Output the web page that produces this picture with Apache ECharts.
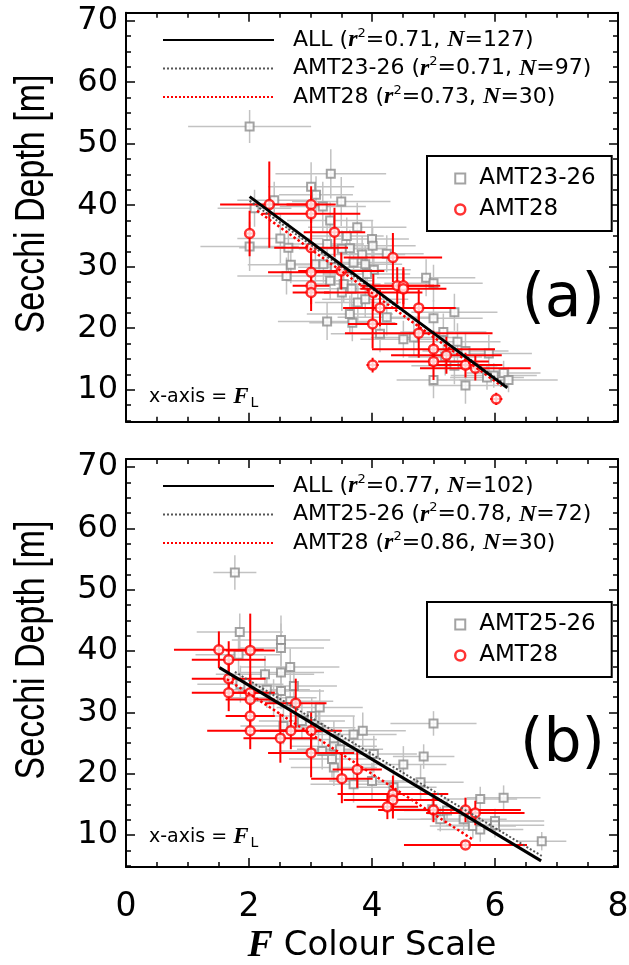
<!DOCTYPE html>
<html><head><meta charset="utf-8">
<script src="https://cdn.jsdelivr.net/npm/echarts@6/dist/echarts.min.js"></script>
<style>html,body{margin:0;padding:0;background:#fff}#c{width:629px;height:965px}</style>
</head><body><div id="c"></div><script>
// ---------- tick labels ----------
const xTickLabels = [0, 2, 4, 6, 8];
const yTickLabels = [10, 20, 30, 40, 50, 60, 70];
const yMinorTicks = [5, 7.5, 12.5, 15, 17.5, 22.5, 25, 27.5, 32.5, 35, 37.5, 42.5, 45, 47.5, 52.5, 55, 57.5, 62.5, 65, 67.5];

// ---------- panel (a) ----------
const aGrayX    = [2.01,3.33,3.01,3.09,3.50,3.20,2.41,2.09,3.32,3.76,2.51,2.64,2.01,3.59,4.00,4.01,3.27,3.51,3.64,3.84,4.24,2.68,2.61,3.08,3.21,3.32,3.40,3.70,3.89,4.03,3.92,4.88,5.00,3.54,3.51,3.67,3.77,3.89,3.64,3.68,3.27,4.24,4.13,4.51,4.68,5.34,5.00,5.16,5.39,5.52,5.90,5.34,5.00,5.52,5.98,6.14,6.22,5.87,5.19];
const aGrayY    = [52.8,45.1,43.0,41.7,40.6,39.8,40.8,39.5,37.5,36.4,34.6,33.1,33.3,35.0,34.5,33.4,33.7,32.9,33.0,32.0,32.1,30.3,28.5,30.4,30.4,27.7,29.9,30.7,30.4,29.5,28.8,28.2,27.3,27.2,25.8,26.4,24.2,24.7,22.3,20.9,21.1,21.8,19.1,18.2,18.5,22.6,21.6,19.4,17.8,16.3,15.9,13.9,11.6,10.7,12.3,12.7,11.6,12.0,15.3];
const aGrayXErr = [1.0,0.9,0.7,0.6,0.8,0.7,0.6,0.6,0.7,0.8,0.7,0.8,0.8,0.6,0.6,0.7,0.6,0.7,0.6,0.7,0.6,0.7,0.8,0.6,0.6,0.7,0.6,0.7,0.6,0.6,0.7,0.8,0.8,0.6,0.6,0.6,0.7,0.7,0.7,0.7,0.8,0.8,0.8,0.7,0.7,0.7,0.8,0.7,0.7,0.7,0.7,0.7,0.6,0.6,0.7,0.6,0.8,0.6,0.6];
const aGrayYErr = [2.7,4,4,3,4,4,3,3,3,4,4,4,4,3,3,3,3,3,3,3,3,3,3,3,3,3,3,3,3,3,3,3,3,3,3,3,3,3,3,3,3,3,3,3,3,3,3,3,3,3,3,3,3,3,2,2,2,2,3];
const aRedX     = [2.01,2.33,3.01,3.01,3.39,3.01,3.01,3.01,3.50,4.34,4.41,4.51,3.01,4.02,4.13,4.01,4.01,4.51,4.76,4.76,5.00,5.00,5.21,5.52,5.68,6.02];
const aRedY     = [35.4,40.1,40.1,38.6,35.6,33.1,29.1,26.9,29.3,31.5,26.9,26.9,25.8,25.8,23.3,20.7,14.0,26.4,23.3,19.2,16.6,14.6,15.6,14.0,13.5,8.5];
const aRedXErr  = [0.05,0.8,0.4,0.8,0.5,0.6,0.7,0.3,0.7,0.8,0.6,0.6,0.3,0.8,0.6,0.4,0.1,0.7,0.6,1.2,1.0,0.9,0.9,0.6,0.9,0.1];
const aRedYErr  = [3.7,7,3,3,4,3,3,3,3,4,3,3,3,3,3,4,1.2,3,3,4,3,3,3,2,2,1];
const aLineAll  = [[2.01, 41.4], [6.20, 10.3]];
const aLineGray = [[2.01, 40.7], [6.20, 10.6]];
const aLineRed  = [[2.13, 39.1], [6.11, 10.6]];

// ---------- panel (b) ----------
const bGrayX    = [1.77,1.85,1.83,2.52,2.52,2.67,2.52,2.26,1.86,2.29,2.52,2.73,2.40,2.67,3.15,3.02,2.86,2.56,3.13,3.38,3.70,3.85,5.00,4.03,4.84,3.19,3.38,3.48,3.35,3.38,3.70,4.00,4.51,4.35,4.79,5.11,5.49,5.64,5.76,5.76,6.14,6.00,6.00,6.76,4.98,5.22];
const bGrayY    = [52.8,43.1,39.4,41.8,40.5,37.4,36.5,36.2,34.6,33.7,33.5,34.3,32.4,31.8,30.8,29.4,28.6,27.8,27.5,25.6,26.4,27.0,28.2,23.2,22.8,23.7,24.5,24.0,22.4,21.0,18.3,18.8,21.5,17.8,18.6,12.6,12.6,11.5,10.9,15.9,16.1,12.3,11.6,9.0,14.2,14.0];
const bGrayXErr = [0.35,0.7,0.7,0.8,0.7,0.8,0.7,0.8,0.7,0.7,0.7,0.7,0.7,0.7,0.7,0.7,0.7,0.7,0.6,0.7,0.7,0.7,0.7,0.7,0.5,0.7,0.7,0.7,0.7,0.7,0.7,0.7,0.7,0.7,0.7,0.7,0.7,0.7,0.7,0.6,0.6,0.8,0.8,0.4,0.7,0.7];
const bGrayYErr = [2.8,3,3,4,4,3,3,3,3,3,3,3,3,3,3,3,3,3,3,3,3,3,2,3,2,3,3,3,3,3,3,3,3,3,3,2,2,2,2,2,2,2,2,1.5,2,2];
const bRedX     = [1.51,2.02,1.67,1.67,1.67,2.02,2.02,2.02,2.02,2.76,2.68,2.51,3.01,3.01,3.51,3.76,4.34,4.34,4.25,5.00,5.52,5.68,5.52];
const bRedY     = [40.2,40.1,38.6,35.5,33.2,33.2,32.1,29.4,27.0,31.5,27.0,25.8,27.0,23.4,19.2,20.7,16.7,15.7,14.6,14.1,14.1,13.6,8.4];
const bRedXErr  = [0.73,0.4,0.6,0.6,0.6,0.4,0.4,0.4,0.7,0.5,0.5,0.6,0.5,0.7,0.5,0.4,0.9,0.8,0.5,0.9,0.9,0.8,1.0];
const bRedYErr  = [3,6,3,3,3,3,3,3,3,4,3,4,3,4,4,3,3,3,2,2,2,2,0.5];
const bLineAll  = [[1.52, 37.3], [6.75, 5.8]];
const bLineGray = [[1.77, 36.6], [6.76, 6.6]];
const bLineRed  = [[1.64, 35.4], [5.65, 9.2]];

// ---------- layout / style ----------
const SANS = '"DejaVu Sans", sans-serif';
const SERIF = '"Liberation Serif", "DejaVu Serif", serif';
const ARIAL = '"Liberation Sans", Arial, sans-serif';
const Y_MIN = 4.8, Y_MAX = 71.3;
const grids = [
  {left: 126, top: 12.7, width: 492, height: 409},
  {left: 126, top: 459, width: 492, height: 408}
];
const BLACK = '#000';
const HIDDEN = {color: 'rgba(0,0,0,0)', borderColor: 'rgba(0,0,0,0)', borderWidth: 0, opacity: 0};

function zip(xs, ys, ex, ey) { return xs.map((x, i) => [x, ys[i], ex[i], ey[i]]); }

function errRender(color, w) {
  return function (params, api) {
    const x = api.value(0), y = api.value(1), ex = api.value(2), ey = api.value(3);
    const l = api.coord([x - ex, y]), r = api.coord([x + ex, y]);
    const t = api.coord([x, y + ey]), b = api.coord([x, y - ey]);
    return {type: 'group', children: [
      {type: 'line', shape: {x1: l[0], y1: l[1], x2: r[0], y2: r[1]}, style: {stroke: color, lineWidth: w}},
      {type: 'line', shape: {x1: t[0], y1: t[1], x2: b[0], y2: b[1]}, style: {stroke: color, lineWidth: w}}
    ]};
  };
}

const xAxes = [], yAxes = [];
grids.forEach((g, gi) => {
  const xb = {gridIndex: gi, type: 'value', min: 0, max: 8, interval: 2,
    splitLine: {show: false}, minorSplitLine: {show: false},
    axisLine: {show: true, onZero: false, lineStyle: {color: BLACK, width: 2}},
    axisTick: {show: true, inside: true, length: 9, lineStyle: {color: BLACK, width: 1.5}},
    minorTick: {show: true, splitNumber: 4, length: 5, lineStyle: {color: BLACK, width: 1.5}}};
  xAxes.push(Object.assign({}, xb, {position: 'bottom',
    axisLabel: {show: gi === 1, margin: 24, fontSize: 33, fontFamily: SANS, color: BLACK,
      customValues: xTickLabels},
    name: gi === 1 ? '{F|F}{t| Colour Scale}' : '', nameLocation: 'middle', nameGap: 59,
    nameTextStyle: {rich: {
      F: {fontFamily: SERIF, fontStyle: 'italic', fontWeight: 'bold', fontSize: 38, color: BLACK, lineHeight: 40},
      t: {fontFamily: SANS, fontSize: 34, color: BLACK, lineHeight: 40}}}
  }));
  xAxes.push(Object.assign({}, xb, {position: 'top', axisLabel: {show: false}}));
  const yb = {gridIndex: gi, type: 'value', min: Y_MIN, max: Y_MAX, splitLine: {show: false}};
  const major = (pos, lab) => Object.assign({}, yb, {position: pos,
    axisLine: {show: true, onZero: false, lineStyle: {color: BLACK, width: 2}},
    axisTick: {show: true, inside: true, length: 9, customValues: yTickLabels, lineStyle: {color: BLACK, width: 1.5}},
    axisLabel: lab ? {show: true, customValues: yTickLabels, margin: 8, fontSize: 32, fontFamily: SANS, color: BLACK} : {show: false}});
  const minor = (pos) => Object.assign({}, yb, {position: pos,
    axisLine: {show: false, onZero: false},
    axisTick: {show: true, inside: true, length: 5, customValues: yMinorTicks, lineStyle: {color: BLACK, width: 1.5}},
    axisLabel: {show: false}});
  yAxes.push(major('left', true), minor('left'), major('right', false), minor('right'));
});

const panels = [
  {tag: 'a', gray: zip(aGrayX, aGrayY, aGrayXErr, aGrayYErr), red: zip(aRedX, aRedY, aRedXErr, aRedYErr),
   all: aLineAll, gl: aLineGray, rl: aLineRed, grayName: 'AMT23-26'},
  {tag: 'b', gray: zip(bGrayX, bGrayY, bGrayXErr, bGrayYErr), red: zip(bRedX, bRedY, bRedXErr, bRedYErr),
   all: bLineAll, gl: bLineGray, rl: bLineRed, grayName: 'AMT25-26'}
];

const series = [];
panels.forEach((p, i) => {
  const ax = {xAxisIndex: 2 * i, yAxisIndex: 4 * i};
  series.push(Object.assign({type: 'custom', name: 'errG_' + p.tag, data: p.gray, encode: {x: 0, y: 1},
    renderItem: errRender('#c2c2c2', 1.5), clip: true, z: 2}, ax));
  series.push(Object.assign({type: 'scatter', name: p.grayName + '_' + p.tag, data: p.gray.map(d => [d[0], d[1]]),
    symbol: 'rect', symbolSize: 8, itemStyle: {color: '#fff', borderColor: '#8c8c8c', borderWidth: 2}, z: 3}, ax));
  series.push(Object.assign({type: 'custom', name: 'errR_' + p.tag, data: p.red, encode: {x: 0, y: 1},
    renderItem: errRender('#ff0000', 2), clip: true, z: 4}, ax));
  series.push(Object.assign({type: 'scatter', name: 'AMT28_' + p.tag, data: p.red.map(d => [d[0], d[1]]),
    symbol: 'circle', symbolSize: 9, itemStyle: {color: '#fff', borderColor: '#ff0000', borderWidth: 2.5}, z: 5}, ax));
  series.push(Object.assign({type: 'line', name: 'LG_' + p.tag, data: p.gl, symbol: 'none', showSymbol: false,
    itemStyle: {color: '#555'}, lineStyle: {color: '#555', width: 2, type: 'dotted'}, z: 6}, ax));
  series.push(Object.assign({type: 'line', name: 'LR_' + p.tag, data: p.rl, symbol: 'none', showSymbol: false,
    itemStyle: {color: '#ff0000'}, lineStyle: {color: '#ff0000', width: 2.5, type: 'dotted'}, z: 6}, ax));
  series.push(Object.assign({type: 'line', name: 'ALL_' + p.tag, data: p.all, symbol: 'none', showSymbol: false,
    itemStyle: {color: BLACK}, lineStyle: {color: BLACK, width: 3}, z: 7}, ax));
});

const lineLegendText = {
  ALL_a: '{sp| }{t|ALL (}{i|r}{s|2}{t|=0.71, }{i|N}{t|=127)}',
  LG_a:  '{sp| }{t|AMT23-26 (}{i|r}{s|2}{t|=0.71, }{i|N}{t|=97)}',
  LR_a:  '{sp| }{t|AMT28 (}{i|r}{s|2}{t|=0.73, }{i|N}{t|=30)}',
  ALL_b: '{sp| }{t|ALL (}{i|r}{s|2}{t|=0.77, }{i|N}{t|=102)}',
  LG_b:  '{sp| }{t|AMT25-26 (}{i|r}{s|2}{t|=0.78, }{i|N}{t|=72)}',
  LR_b:  '{sp| }{t|AMT28 (}{i|r}{s|2}{t|=0.86, }{i|N}{t|=30)}'
};
const legRich = {
  sp: {width: 14, fontSize: 22, lineHeight: 26},
  t: {fontFamily: SANS, fontSize: 22, color: BLACK, lineHeight: 26},
  i: {fontFamily: SERIF, fontStyle: 'italic', fontWeight: 'bold', fontSize: 24, color: BLACK, lineHeight: 26},
  s: {fontFamily: SANS, fontSize: 13, color: BLACK, lineHeight: 14, verticalAlign: 'top'}
};
const mkRich = {
  sp: {width: 9, fontSize: 23, lineHeight: 26},
  t: {fontFamily: SANS, fontSize: 23, color: BLACK, lineHeight: 26}
};
const legends = [];
panels.forEach((p, i) => {
  const off = i === 0 ? 0 : 446;
  legends.push({orient: 'vertical', left: 162, top: 27 + off, padding: 0, itemWidth: 111, itemHeight: 14, itemGap: 3.5,
    selectedMode: false,
    data: ['ALL_' + p.tag, 'LG_' + p.tag, 'LR_' + p.tag].map(n => ({name: n, itemStyle: HIDDEN})),
    formatter: n => lineLegendText[n], textStyle: {rich: legRich}});
  legends.push({orient: 'vertical', left: 427, top: 156 + off, padding: [11, 16, 10, 27],
    borderColor: BLACK, borderWidth: 2, backgroundColor: '#fff', itemWidth: 10, itemHeight: 10, itemGap: 8,
    selectedMode: false,
    data: [
      {name: p.grayName + '_' + p.tag, icon: 'rect', itemStyle: {color: '#fff', borderColor: '#8c8c8c', borderWidth: 2}},
      {name: 'AMT28_' + p.tag, icon: 'circle', itemStyle: {color: '#fff', borderColor: '#ff0000', borderWidth: 2.5}}
    ],
    formatter: n => '{sp| }{t|' + n.replace(/_[ab]$/, '') + '}', textStyle: {rich: mkRich}});
});

const graphics = [];
[204, 650].forEach(cy => graphics.push({type: 'text', x: 32, y: cy, rotation: Math.PI / 2, scaleY: 1.25,
  style: {text: 'Secchi Depth [m]', fontFamily: ARIAL, fontSize: 34, fill: BLACK, align: 'center', verticalAlign: 'middle'}}));
[['(a)', 300], ['(b)', 745]].forEach(([t, cy]) => graphics.push({type: 'text', x: 605, y: cy,
  style: {text: t, fontFamily: SANS, fontSize: 60, fill: BLACK, align: 'right', verticalAlign: 'middle'}}));
[397, 837].forEach(cy => graphics.push({type: 'text', x: 149, y: cy,
  style: {text: '{t|x-axis = }{F|F}{L|L}', align: 'left', verticalAlign: 'middle',
    rich: {t: {fontFamily: SANS, fontSize: 19, fill: BLACK, lineHeight: 26},
           F: {fontFamily: SERIF, fontStyle: 'italic', fontWeight: 'bold', fontSize: 23, fill: BLACK, lineHeight: 26},
           L: {fontFamily: SANS, fontSize: 14, fill: BLACK, lineHeight: 14, verticalAlign: 'bottom', padding: [0, 0, 0, 2]}}}}));

const chart = echarts.init(document.getElementById('c'), null, {renderer: 'canvas'});
chart.setOption({
  animation: false,
  backgroundColor: '#fff',
  grid: grids.map(g => Object.assign({containLabel: false, outerBoundsMode: 'none'}, g)),
  xAxis: xAxes,
  yAxis: yAxes,
  legend: legends,
  series: series,
  graphic: graphics
});
</script></body></html>
